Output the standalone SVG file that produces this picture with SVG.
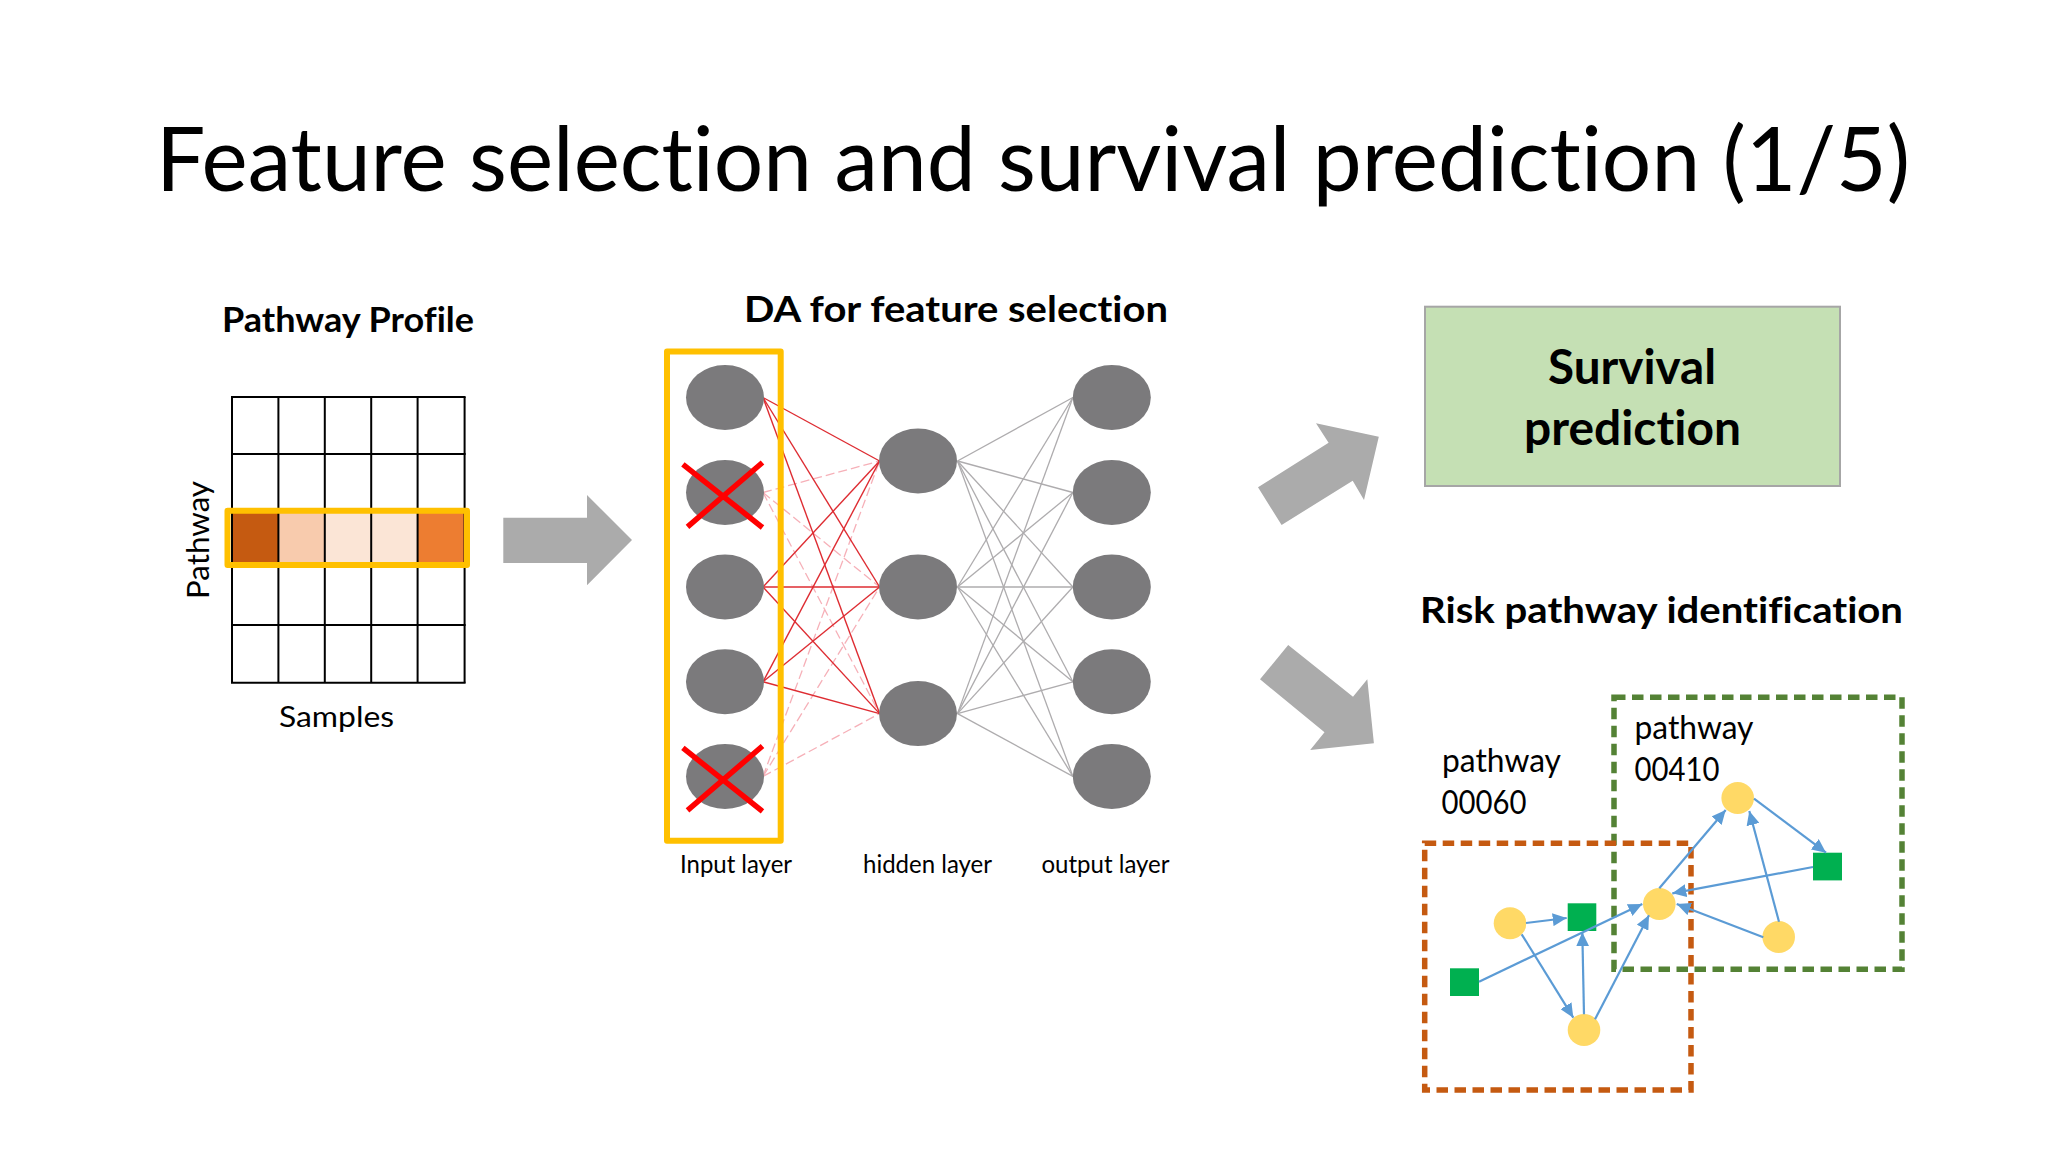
<svg xmlns="http://www.w3.org/2000/svg" width="2048" height="1152" viewBox="0 0 2048 1152">
<style>
text{font-family:"Lato","Liberation Sans",sans-serif;fill:#000;font-variant-ligatures:none}
.b{font-weight:700}
.grid line{stroke:#000;stroke-width:2}
.sel{fill:none;stroke:#ffc000;stroke-width:6;stroke-linejoin:round}
.arrow{fill:#ababab}
.nn{fill:#7b7a7c}
.x{stroke:#f00;stroke-width:5.5;fill:none}
.r line{stroke:#de2c32;stroke-width:1.4}
.p line{stroke:#f6b0b8;stroke-width:1.3;stroke-dasharray:9 4}
.g line{stroke:#aeacae;stroke-width:1.3}
.bl line{stroke:#5b9bd5;stroke-width:2.2;marker-end:url(#tri)}
.y{fill:#ffd966}
.s{fill:#00b050}
.lbl{font-size:25px}
.pw{font-size:32px}
</style>
<defs>
<marker id="tri" markerUnits="userSpaceOnUse" markerWidth="15" markerHeight="13" refX="14" refY="6.5" orient="auto"><path d="M0 0L14 6.5L0 13z" fill="#5b9bd5"/></marker>
</defs>
<g id="title"><text x="156" y="191" font-size="89" textLength="1754" lengthAdjust="spacingAndGlyphs">Feature selection and survival prediction (1/5)</text></g>

<g id="pathway-profile">
<text class="b" x="222" y="332" font-size="34" textLength="252" lengthAdjust="spacingAndGlyphs">Pathway Profile</text>
<rect x="232" y="511" width="46.4" height="54" fill="#c55a11"/>
<rect x="278.4" y="511" width="46.4" height="54" fill="#f8cbad"/>
<rect x="324.8" y="511" width="46.4" height="54" fill="#fbe5d6"/>
<rect x="371.2" y="511" width="46.4" height="54" fill="#fbe5d6"/>
<rect x="417.6" y="511" width="47" height="54" fill="#ed7d31"/>
<g class="grid">
<line x1="231" y1="397" x2="465.6" y2="397"/><line x1="231" y1="454" x2="465.6" y2="454"/><line x1="231" y1="625" x2="465.6" y2="625"/><line x1="231" y1="682.7" x2="465.6" y2="682.7"/>
<line x1="232" y1="397" x2="232" y2="682.7"/><line x1="278.4" y1="397" x2="278.4" y2="682.7"/><line x1="324.8" y1="397" x2="324.8" y2="682.7"/><line x1="371.2" y1="397" x2="371.2" y2="682.7"/><line x1="417.6" y1="397" x2="417.6" y2="682.7"/><line x1="464.6" y1="397" x2="464.6" y2="682.7"/>
</g>
<rect class="sel" x="227.5" y="510.7" width="239.5" height="54.3"/>
<text x="209" y="599" font-size="30" transform="rotate(-90 209 599)" textLength="118" lengthAdjust="spacingAndGlyphs">Pathway</text>
<text x="279" y="727" font-size="29" textLength="115" lengthAdjust="spacingAndGlyphs">Samples</text>
</g>
<g id="arrow-center"><path class="arrow" d="M503.3 517.7H587V495L632 540L587 585.3V563H503.3z"/></g>
<g id="arrow-up"><path class="arrow" d="M1258 487.3L1328.6 442.7L1316 423.3L1378.8 436.7L1364 500L1352.7 480.7L1281.6 525z"/></g>
<g id="arrow-down"><path class="arrow" d="M1288.2 645L1353 696.7L1367.3 679.3L1373.9 743.3L1310.2 750L1324.5 732.3L1260 679.3z"/></g>

<text class="b" x="744" y="321.7" font-size="37" textLength="424" lengthAdjust="spacingAndGlyphs">DA for feature selection</text>

<g id="connectors">
<g class="g">
<line x1="957.5" y1="461" x2="1072.9" y2="397.5"/><line x1="957.5" y1="461" x2="1072.9" y2="492.5"/><line x1="957.5" y1="461" x2="1072.9" y2="587"/><line x1="957.5" y1="461" x2="1072.9" y2="681.8"/><line x1="957.5" y1="461" x2="1072.9" y2="776.4"/>
<line x1="957.5" y1="587" x2="1072.9" y2="397.5"/><line x1="957.5" y1="587" x2="1072.9" y2="492.5"/><line x1="957.5" y1="587" x2="1072.9" y2="587"/><line x1="957.5" y1="587" x2="1072.9" y2="681.8"/><line x1="957.5" y1="587" x2="1072.9" y2="776.4"/>
<line x1="957.5" y1="713.6" x2="1072.9" y2="397.5"/><line x1="957.5" y1="713.6" x2="1072.9" y2="492.5"/><line x1="957.5" y1="713.6" x2="1072.9" y2="587"/><line x1="957.5" y1="713.6" x2="1072.9" y2="681.8"/><line x1="957.5" y1="713.6" x2="1072.9" y2="776.4"/>
</g>
<g class="p">
<line x1="763" y1="492.5" x2="879.6" y2="461"/><line x1="763" y1="492.5" x2="879.6" y2="587"/><line x1="763" y1="492.5" x2="879.6" y2="713.6"/>
<line x1="763" y1="776.4" x2="879.6" y2="461"/><line x1="763" y1="776.4" x2="879.6" y2="587"/><line x1="763" y1="776.4" x2="879.6" y2="713.6"/>
</g>
<g class="r">
<line x1="763" y1="397.5" x2="879.6" y2="461"/><line x1="763" y1="397.5" x2="879.6" y2="587"/><line x1="763" y1="397.5" x2="879.6" y2="713.6"/>
<line x1="763" y1="587" x2="879.6" y2="461"/><line x1="763" y1="587" x2="879.6" y2="587"/><line x1="763" y1="587" x2="879.6" y2="713.6"/>
<line x1="763" y1="681.8" x2="879.6" y2="461"/><line x1="763" y1="681.8" x2="879.6" y2="587"/><line x1="763" y1="681.8" x2="879.6" y2="713.6"/>
</g>
</g>

<g id="input-1"><ellipse class="nn" cx="725" cy="397.5" rx="39" ry="32.5"/></g>
<g id="input-2"><ellipse class="nn" cx="725" cy="492.5" rx="39" ry="32.5"/><path class="x" d="M682.9 464.3L762.5 527.5M762.5 462.5L687.5 526.8"/></g>
<g id="input-3"><ellipse class="nn" cx="725" cy="587" rx="39" ry="32.5"/></g>
<g id="input-4"><ellipse class="nn" cx="725" cy="681.8" rx="39" ry="32.5"/></g>
<g id="input-5"><ellipse class="nn" cx="725" cy="776.4" rx="39" ry="32.5"/><path class="x" d="M682.9 747.9L762.5 811.4M762.5 746L687.5 810.4"/></g>
<g id="hidden-1"><ellipse class="nn" cx="918" cy="461" rx="39" ry="32.5"/></g>
<g id="hidden-2"><ellipse class="nn" cx="918" cy="587" rx="39" ry="32.5"/></g>
<g id="hidden-3"><ellipse class="nn" cx="918" cy="713.6" rx="39" ry="32.5"/></g>
<g id="output-1"><ellipse class="nn" cx="1111.8" cy="397.5" rx="39" ry="32.5"/></g>
<g id="output-2"><ellipse class="nn" cx="1111.8" cy="492.5" rx="39" ry="32.5"/></g>
<g id="output-3"><ellipse class="nn" cx="1111.8" cy="587" rx="39" ry="32.5"/></g>
<g id="output-4"><ellipse class="nn" cx="1111.8" cy="681.8" rx="39" ry="32.5"/></g>
<g id="output-5"><ellipse class="nn" cx="1111.8" cy="776.4" rx="39" ry="32.5"/></g>
<g id="input-highlight"><rect class="sel" x="667" y="351.4" width="113.7" height="489.3"/></g>
<text class="lbl" x="680" y="873.4" textLength="112" lengthAdjust="spacingAndGlyphs">Input layer</text>
<text class="lbl" x="863" y="873.4" textLength="129" lengthAdjust="spacingAndGlyphs">hidden layer</text>
<text class="lbl" x="1041.5" y="873.4" textLength="128" lengthAdjust="spacingAndGlyphs">output layer</text>

<g id="survival">
<rect x="1425" y="306.7" width="415" height="179.3" fill="#c5e0b4" stroke="#a6a6a6" stroke-width="2"/>
<text class="b" x="1548" y="383.5" font-size="47" textLength="168" lengthAdjust="spacingAndGlyphs">Survival</text>
<text class="b" x="1524" y="445" font-size="47" textLength="217" lengthAdjust="spacingAndGlyphs">prediction</text>
</g>
<text class="b" x="1420" y="622.7" font-size="37" textLength="483" lengthAdjust="spacingAndGlyphs">Risk pathway identification</text>

<g id="pathway-00410-box"><rect x="1614" y="697.3" width="288" height="272" fill="none" stroke="#548235" stroke-width="5.5" stroke-dasharray="11.5 6.5"/></g>
<g id="pathway-00060-box"><rect x="1424.7" y="843.3" width="266.3" height="246.7" fill="none" stroke="#c55a11" stroke-width="5.5" stroke-dasharray="11.5 6.5"/></g>
<text class="pw" x="1442" y="772" textLength="119" lengthAdjust="spacingAndGlyphs">pathway</text>
<text class="pw" x="1441.5" y="813.5" textLength="85" lengthAdjust="spacingAndGlyphs">00060</text>
<text class="pw" x="1634.5" y="738.8" textLength="119" lengthAdjust="spacingAndGlyphs">pathway</text>
<text class="pw" x="1634.5" y="780.5" textLength="85" lengthAdjust="spacingAndGlyphs">00410</text>

<g id="n-a"><ellipse class="y" cx="1510" cy="923.3" rx="16.3" ry="16"/></g>
<g id="n-b"><ellipse class="y" cx="1584" cy="1030" rx="16.3" ry="16"/></g>
<g id="n-c"><ellipse class="y" cx="1659.3" cy="904" rx="16.3" ry="16"/></g>
<g id="n-d"><ellipse class="y" cx="1737.7" cy="798" rx="16.3" ry="16"/></g>
<g id="n-e"><ellipse class="y" cx="1778.7" cy="937" rx="16.3" ry="16"/></g>
<g id="s-1"><rect class="s" x="1567.7" y="903.3" width="28.6" height="27.7"/></g>
<g id="s-2"><rect class="s" x="1450" y="968.3" width="29" height="27.7"/></g>
<g id="s-3"><rect class="s" x="1813" y="852.7" width="29" height="27.7"/></g>
<g id="pathway-connectors" class="bl">
<line x1="1526" y1="923" x2="1566.7" y2="918"/>
<line x1="1521.7" y1="934.3" x2="1573.3" y2="1017.7"/>
<line x1="1584" y1="1014.3" x2="1582.3" y2="932.3"/>
<line x1="1479" y1="981.7" x2="1642.3" y2="904"/>
<line x1="1595" y1="1019.3" x2="1649" y2="915.3"/>
<line x1="1659.3" y1="888.3" x2="1725.7" y2="810"/>
<line x1="1754" y1="798.7" x2="1826" y2="852.7"/>
<line x1="1813" y1="867" x2="1672.3" y2="893.3"/>
<line x1="1763.3" y1="937.3" x2="1676.7" y2="904"/>
<line x1="1779" y1="921.7" x2="1749.3" y2="811"/>
</g>
</svg>
